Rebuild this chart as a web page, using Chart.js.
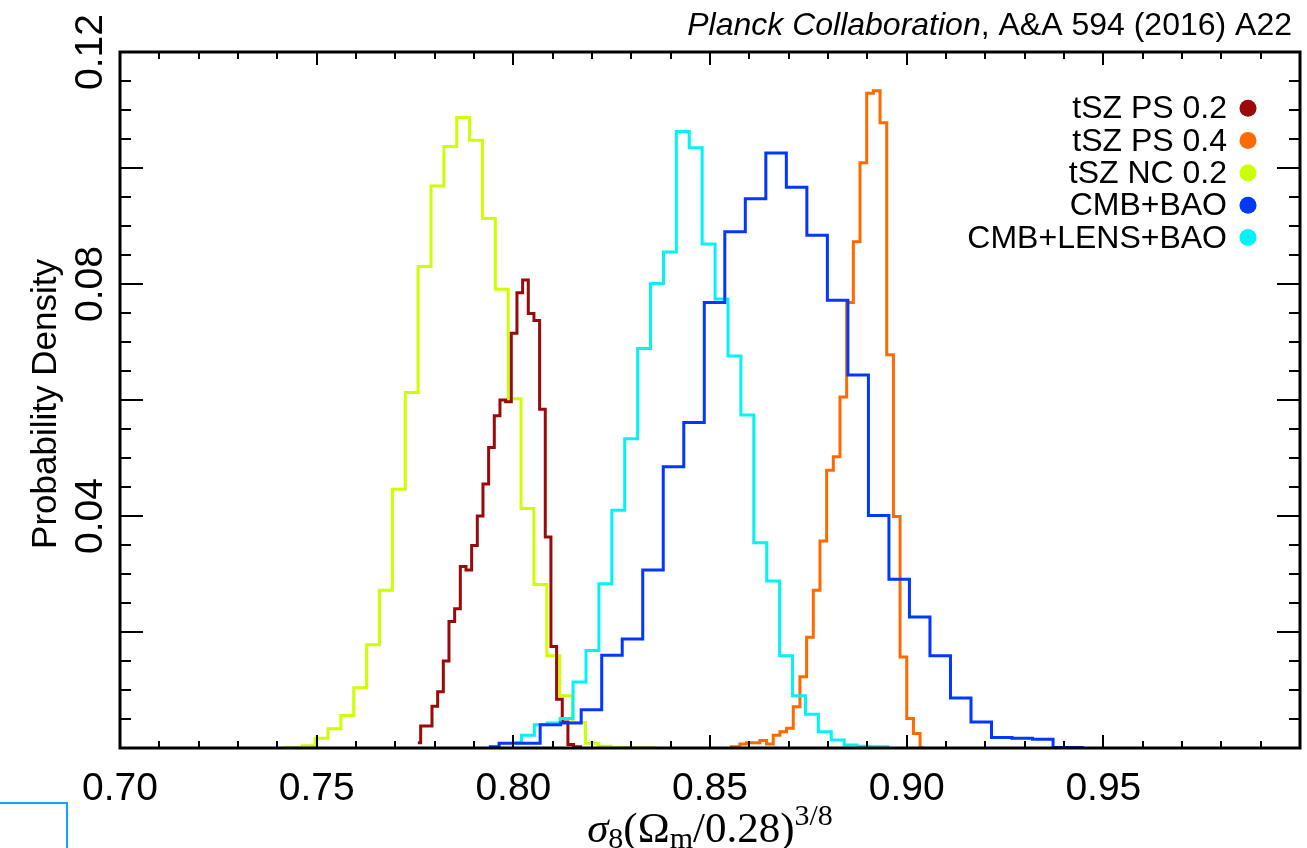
<!DOCTYPE html>
<html>
<head>
<meta charset="utf-8">
<script src="https://cdn.jsdelivr.net/npm/chart.js@4.4.1/dist/chart.umd.min.js"></script>
<style>
html,body{margin:0;padding:0;background:#fff;overflow:hidden;}
#wrap{position:relative;width:1307px;height:848px;}
#c{display:block;}
#box{position:absolute;left:-6px;top:802px;width:70px;height:60px;border:2px solid #0ea5ff;}
</style>
</head>
<body>
<div id="wrap"><canvas id="c" width="1307" height="848"></canvas><div id="box"></div></div>
<script>
// ---------- data (histograms: first-bin left edge, bin width, densities) ----------
const seriesLabels = ['tSZ PS 0.2', 'tSZ PS 0.4', 'tSZ NC 0.2', 'CMB+BAO', 'CMB+LENS+BAO'];
const seriesColors = ['#9a0a0a', '#ff6a00', '#ccff00', '#0038ff', '#00f4f4'];

const ps02Start = 0.7750, ps02Bin = 0.00144;
const ps02Density = [0.0009, 0.0038, 0.0038, 0.0072, 0.0097, 0.0150, 0.0218, 0.0240, 0.0313, 0.0307,
                     0.0349, 0.0400, 0.0455, 0.0518, 0.0573, 0.0600, 0.0597, 0.0715, 0.0785, 0.0807,
                     0.0749, 0.0737, 0.0584, 0.0364, 0.0175, 0.0084, 0.0045, 0.0006, 0.0002, 0.0002];

const ps04Start = 0.85420, ps04Bin = 0.001697;
const ps04Density = [0.0002, 0.0002, 0.0007, 0.0009, 0.0009, 0.0013, 0.0007, 0.0022, 0.0028, 0.0034,
                     0.0071, 0.0123, 0.0191, 0.0272, 0.0357, 0.0479, 0.0502, 0.0605, 0.0768, 0.0873,
                     0.1009, 0.1129, 0.1133, 0.1078, 0.0678, 0.0399, 0.0157, 0.0051, 0.0025, 0.0001];

const nc02Start = 0.7398, nc02Bin = 0.003272;
const nc02Density = [0.0001, 0.0001, 0.0004, 0.0017, 0.0033, 0.0056, 0.0104, 0.0178, 0.0272, 0.0446,
                     0.0613, 0.0830, 0.0969, 0.1037, 0.1087, 0.1048, 0.0913, 0.0791, 0.0602, 0.0413,
                     0.0282, 0.0159, 0.0090, 0.0044, 0.0008, 0.0003, 0.0001, 0.0001, 0.0001, 0.0001];

const cmbBaoStart = 0.79117, cmbBaoBin = 0.005216;
const cmbBaoDensity = [0.0002, 0.0008, 0.0008, 0.0040, 0.0043, 0.0066, 0.0160, 0.0188, 0.0307, 0.0485,
                       0.0561, 0.0768, 0.0890, 0.0947, 0.1026, 0.0967, 0.0884, 0.0772, 0.0643, 0.0401,
                       0.0291, 0.0226, 0.0159, 0.0086, 0.0045, 0.0018, 0.0017, 0.0015, 0.0001, 0.0001];

const cmbLensStart = 0.79878, cmbLensBin = 0.003282;
const cmbLensDensity = [0.0009, 0.0022, 0.0040, 0.0043, 0.0051, 0.0114, 0.0168, 0.0283, 0.0410, 0.0533,
                        0.0689, 0.0801, 0.0855, 0.1063, 0.1035, 0.0869, 0.0774, 0.0676, 0.0574, 0.0354,
                        0.0288, 0.0159, 0.0090, 0.0058, 0.0028, 0.0014, 0.0005, 0.0003, 0.0002, 0.0002];

const xTickValues = [0.70, 0.75, 0.80, 0.85, 0.90, 0.95];
const xTickLabels = ['0.70', '0.75', '0.80', '0.85', '0.90', '0.95'];
const yTickValues = [0.04, 0.08, 0.12];
const yTickLabels = ['0.04', '0.08', '0.12'];
const xMin = 0.70, xMax = 1.00, yMin = 0, yMax = 0.12;
const xMajorStep = 0.05, xMinorStep = 0.01, yMajorStep = 0.02, yMinorStep = 0.005;

const yTitle = 'Probability Density';
const citeItalic = 'Planck Collaboration';
const citeRest = ', A&A 594 (2016) A22';

// ---------- build ----------
function histPoints(start, width, values) {
  return values.map((v, i) => ({ x: start + (i + 0.5) * width, y: v }));
}
function ds(idx, start, width, values, order) {
  return {
    label: seriesLabels[idx],
    data: histPoints(start, width, values),
    borderColor: seriesColors[idx],
    backgroundColor: seriesColors[idx],
    borderWidth: 3,
    pointRadius: 0,
    stepped: 'middle',
    fill: false,
    order: order
  };
}

const SANS = '"Liberation Sans", Arial, Helvetica, sans-serif';
const SERIF = '"Liberation Serif", "DejaVu Serif", serif';

const decor = {
  id: 'decor',
  afterDatasetsDraw(chart) {
    const ctx = chart.ctx;
    const xs = chart.scales.x, ys = chart.scales.y;
    const L = xs.getPixelForValue(xMin), R = xs.getPixelForValue(xMax);
    const T = ys.getPixelForValue(yMax), B = ys.getPixelForValue(yMin);
    ctx.save();
    ctx.strokeStyle = '#000';
    // ticks
    ctx.lineWidth = 2;
    ctx.lineCap = 'butt';
    const nx = Math.round((xMax - xMin) / xMinorStep);
    const perMajorX = Math.round(xMajorStep / xMinorStep);
    for (let i = 0; i <= nx; i++) {
      const v = xMin + i * xMinorStep;
      const px = Math.round(xs.getPixelForValue(v));
      const len = (i % perMajorX === 0) ? 13 : 7;
      ctx.beginPath();
      ctx.moveTo(px, B); ctx.lineTo(px, B - len);
      ctx.moveTo(px, T); ctx.lineTo(px, T + len);
      ctx.stroke();
    }
    const ny = Math.round((yMax - yMin) / yMinorStep);
    const perMajorY = Math.round(yMajorStep / yMinorStep);
    for (let j = 0; j <= ny; j++) {
      const v = yMin + j * yMinorStep;
      const py = Math.round(ys.getPixelForValue(v));
      const len = (j % perMajorY === 0) ? 23 : 11;
      ctx.beginPath();
      ctx.moveTo(L, py); ctx.lineTo(L + len, py);
      ctx.moveTo(R, py); ctx.lineTo(R - len, py);
      ctx.stroke();
    }
    // frame
    ctx.lineWidth = 3;
    ctx.strokeRect(L, T, R - L, B - T);

    ctx.fillStyle = '#000';
    // x tick labels
    ctx.font = '39px ' + SANS;
    ctx.textAlign = 'center';
    ctx.textBaseline = 'alphabetic';
    xTickValues.forEach((v, i) => {
      ctx.fillText(xTickLabels[i], xs.getPixelForValue(v), 800);
    });
    // y tick labels (rotated)
    yTickValues.forEach((v, i) => {
      ctx.save();
      ctx.translate(102, ys.getPixelForValue(v));
      ctx.rotate(-Math.PI / 2);
      ctx.textAlign = 'center';
      ctx.fillText(yTickLabels[i], 0, 0);
      ctx.restore();
    });
    // y title
    ctx.save();
    ctx.font = '35px ' + SANS;
    ctx.translate(56, (T + B) / 2 + 4);
    ctx.rotate(-Math.PI / 2);
    ctx.textAlign = 'center';
    ctx.fillText(yTitle, 0, 0);
    ctx.restore();

    // x title: sigma_8 (Omega_m / 0.28)^{3/8}
    const big = 43, small = 30;
    const parts = [
      { t: 'σ', f: 'italic ' + big + 'px ' + SERIF, dy: 0 },
      { t: '8', f: small + 'px ' + SERIF, dy: 6 },
      { t: '(Ω', f: big + 'px ' + SERIF, dy: 0 },
      { t: 'm', f: small + 'px ' + SERIF, dy: 6 },
      { t: '/0.28)', f: big + 'px ' + SERIF, dy: 0 },
      { t: '3/8', f: small + 'px ' + SERIF, dy: -17 }
    ];
    let tw = 0;
    parts.forEach(p => { ctx.font = p.f; p.w = ctx.measureText(p.t).width; tw += p.w; });
    let cx = (L + R) / 2 - tw / 2;
    ctx.textAlign = 'left';
    parts.forEach(p => { ctx.font = p.f; ctx.fillText(p.t, cx, 842 + p.dy); cx += p.w; });

    // citation (top right)
    const cf = 32;
    ctx.font = 'italic ' + cf + 'px ' + SANS;
    const wi = ctx.measureText(citeItalic).width;
    ctx.font = cf + 'px ' + SANS;
    const wr = ctx.measureText(citeRest).width;
    const citeRight = 1292;
    ctx.textAlign = 'left';
    ctx.fillText(citeRest, citeRight - wr, 35);
    ctx.font = 'italic ' + cf + 'px ' + SANS;
    ctx.fillText(citeItalic, citeRight - wr - wi, 35);

    // legend
    ctx.font = '32px ' + SANS;
    ctx.textAlign = 'right';
    chart.data.datasets.forEach((d, i) => {
      const cy = 108.3 + i * 32.3;
      ctx.fillStyle = '#000';
      ctx.fillText(d.label, 1227, cy + 10);
      ctx.fillStyle = seriesColors[i];
      ctx.beginPath();
      ctx.arc(1248, cy, 8.5, 0, Math.PI * 2);
      ctx.fill();
    });
    ctx.restore();
  }
};

new Chart(document.getElementById('c'), {
  type: 'line',
  data: {
    datasets: [
      ds(0, ps02Start, ps02Bin, ps02Density, 4),
      ds(1, ps04Start, ps04Bin, ps04Density, 3),
      ds(2, nc02Start, nc02Bin, nc02Density, 5),
      ds(3, cmbBaoStart, cmbBaoBin, cmbBaoDensity, 1),
      ds(4, cmbLensStart, cmbLensBin, cmbLensDensity, 2)
    ]
  },
  options: {
    responsive: false,
    devicePixelRatio: 1,
    animation: false,
    layout: { padding: { left: 120, right: 7, top: 52, bottom: 100 } },
    plugins: { legend: { display: false }, title: { display: false }, tooltip: { enabled: false } },
    scales: {
      x: { type: 'linear', min: xMin, max: xMax, display: false },
      y: { type: 'linear', min: yMin, max: yMax, display: false }
    }
  },
  plugins: [decor]
});
</script>
</body>
</html>
